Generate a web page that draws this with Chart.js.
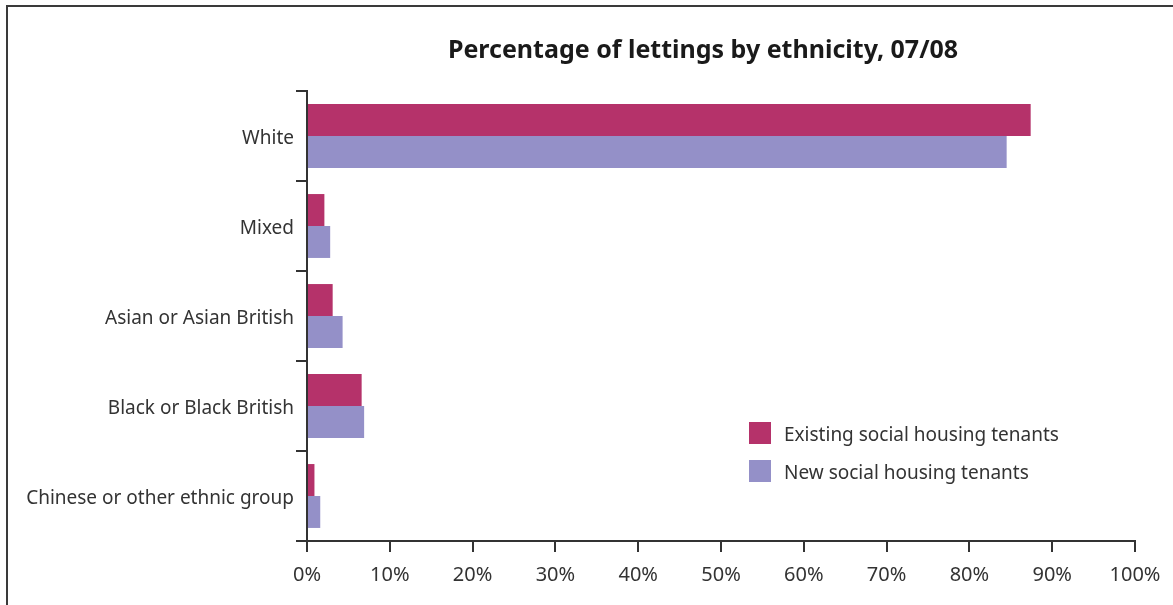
<!DOCTYPE html>
<html>
<head>
<meta charset="utf-8">
<script src="https://cdn.jsdelivr.net/npm/chart.js@4/dist/chart.umd.min.js"></script>
<style>
  html,body{margin:0;padding:0;background:#fff;}
  #wrap{position:relative;width:1173px;height:605px;}
</style>
</head>
<body>
<div id="wrap"><canvas id="c"></canvas></div>
<script>
const categories=['White','Mixed','Asian or Asian British','Black or Black British','Chinese or other ethnic group'];
const existingTenants=[87.4,2.1,3.1,6.6,0.9];
const newTenants=[84.5,2.8,4.3,6.9,1.6];
const xTicks=[0,10,20,30,40,50,60,70,80,90,100];

const ink='#333333';
const font="'Noto Sans', 'Open Sans', sans-serif";

// frame lines round the figure, title box shift, legend placed inside the plot
const framePlugin={
  id:'frame',
  afterLayout(chart){
    const t=chart.titleBlock;
    if(t){t.left=271;t.right=1135;}
  },
  beforeDraw(chart){
    const c=chart.ctx;c.save();
    c.strokeStyle='#3a3a3a';c.lineWidth=2;
    c.beginPath();c.moveTo(7,605);c.lineTo(7,6);c.lineTo(1173,6);c.stroke();
    c.restore();
  },
  afterDraw(chart){
    const c=chart.ctx;c.save();
    c.font=`19px ${font}`;c.textBaseline='middle';
    chart.data.datasets.forEach((ds,i)=>{
      const y=422+i*38;
      c.fillStyle=ds.backgroundColor;c.fillRect(749,y,22,22);
      c.fillStyle=ink;c.fillText(ds.label,784,y+14);
    });
    c.restore();
  }
};

new Chart(document.getElementById('c'),{
  type:'bar',
  data:{labels:categories,datasets:[
    {label:'Existing social housing tenants',data:existingTenants,backgroundColor:'#b5326a',categoryPercentage:0.71,barPercentage:1},
    {label:'New social housing tenants',data:newTenants,backgroundColor:'#9490c8',categoryPercentage:0.71,barPercentage:1}
  ]},
  options:{
    indexAxis:'y',responsive:true,maintainAspectRatio:false,animation:false,
    layout:{padding:{left:10,right:38,top:0,bottom:0}},
    plugins:{
      legend:{display:false},
      tooltip:{enabled:false},
      title:{display:true,text:'Percentage of lettings by ethnicity, 07/08',color:'#1a1a1a',
        font:{family:font,size:25,weight:'bold'},padding:{top:36,bottom:25}}
    },
    scales:{
      y:{
        afterFit(s){s.width=297;},
        grid:{offset:true,drawOnChartArea:false,tickLength:11,color:ink,lineWidth:2},
        border:{color:ink,width:2},
        ticks:{color:ink,padding:2,labelOffset:3,font:{family:font,size:19}}
      },
      x:{
        min:0,max:100,
        afterFit(s){s.height=64;},
        afterBuildTicks(s){s.ticks=xTicks.map(v=>({value:v}));},
        grid:{drawOnChartArea:false,tickLength:11,color:ink,lineWidth:2},
        border:{color:ink,width:2},
        ticks:{color:ink,padding:11,font:{family:font,size:20},callback:v=>v+'%'}
      }
    }
  },
  plugins:[framePlugin]
});
</script>
</body>
</html>
